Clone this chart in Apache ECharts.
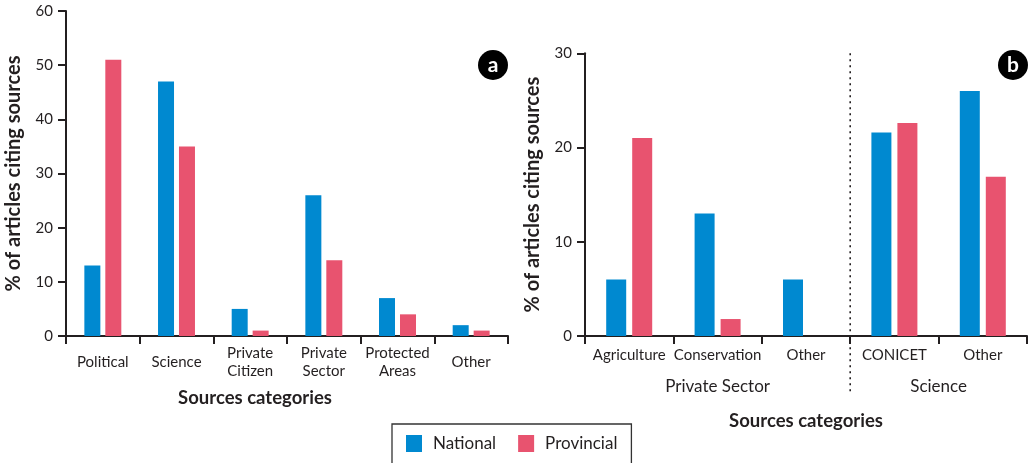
<!DOCTYPE html>
<html>
<head>
<meta charset="utf-8">
<script src="https://cdn.jsdelivr.net/npm/echarts@6/dist/echarts.min.js"></script>
<style>
  html, body { margin: 0; padding: 0; background: #fff; }
  #chart { width: 1031px; height: 463px; }
</style>
</head>
<body>
<div id="chart"></div>
<script>
// panel a
var categoriesA = ['Political', 'Science', 'Private\nCitizen', 'Private\nSector', 'Protected\nAreas', 'Other'];
var nationalA = [13, 47, 5, 26, 7, 2];
var provincialA = [51, 35, 1, 14, 4, 1];
var ticksA = [0, 10, 20, 30, 40, 50, 60];

// panel b
var categoriesB = ['Agriculture', 'Conservation', 'Other', 'CONICET', 'Other'];
var nationalB = [6, 13, 6, 21.6, 26];
var provincialB = [21, 1.8, 0, 22.6, 16.9];
var ticksB = [0, 10, 20, 30];
var groupsB = ['Private Sector', 'Science'];
var groupSizeB = [3, 2];

var font = 'Lato, "Noto Sans", sans-serif';
var ink = '#231f20';
var blue = '#0089d0';
var pink = '#e8536f';

var gridA = { left: 66, top: 11, width: 442, height: 325 };
var gridB = { left: 585, top: 53.3, width: 442, height: 282.7 };

function xAxis(idx, cats, name, nameGap, namePad, labelMargin) {
  return {
    type: 'category',
    gridIndex: idx,
    data: cats,
    name: name,
    nameLocation: 'middle',
    nameGap: nameGap,
    nameTextStyle: { fontFamily: font, fontWeight: 'bold', fontSize: 18.5, color: ink,
      verticalAlign: 'middle', padding: namePad },
    axisLine: { lineStyle: { color: ink, width: 2 } },
    axisTick: { show: true, length: 8, lineStyle: { color: ink, width: 2 } },
    axisLabel: { fontFamily: font, fontSize: 15, color: ink, interval: 0,
      margin: labelMargin, verticalAlign: 'middle', lineHeight: 18 },
    splitLine: { show: false }
  };
}

function yAxis(idx, ticks) {
  return {
    type: 'value',
    gridIndex: idx,
    min: ticks[0],
    max: ticks[ticks.length - 1],
    interval: ticks[1] - ticks[0],
    name: '% of articles citing sources',
    nameLocation: 'middle',
    nameGap: 42,
    nameTextStyle: { fontFamily: font, fontWeight: 'bold', fontSize: 20, color: ink },
    axisLine: { show: true, lineStyle: { color: ink, width: 2 } },
    axisTick: { show: true, length: 8, lineStyle: { color: ink, width: 2 } },
    axisLabel: { fontFamily: font, fontSize: 15, color: ink, margin: 13 },
    splitLine: { show: false }
  };
}

function bar(name, data, idx, color, width, gap) {
  return {
    name: name,
    type: 'bar',
    xAxisIndex: idx,
    yAxisIndex: idx,
    data: data,
    barWidth: width,
    barGap: gap,
    itemStyle: { color: color },
    silent: true
  };
}

function badge(cx, cy, letter) {
  return [
    { type: 'circle', shape: { cx: cx, cy: cy, r: 15 }, style: { fill: '#000' } },
    { type: 'text', x: cx, y: cy, style: { text: letter, fill: '#fff', font: 'bold 21px ' + font,
      textAlign: 'center', textVerticalAlign: 'middle' } }
  ];
}

// group labels and separator under panel b
var graphics = [];
var bandB = gridB.width / categoriesB.length;
var start = 0;
groupsB.forEach(function (g, i) {
  var cx = gridB.left + bandB * (start + groupSizeB[i] / 2);
  graphics.push({ type: 'text', x: cx, y: 387,
    style: { text: g, fill: ink, font: '17px ' + font, textAlign: 'center', textVerticalAlign: 'middle' } });
  start += groupSizeB[i];
});
var sepX = gridB.left + bandB * groupSizeB[0];
graphics.push({ type: 'line', shape: { x1: sepX, y1: gridB.top, x2: sepX, y2: 395 },
  style: { stroke: ink, lineWidth: 1.6, lineDash: [2, 4] } });
graphics = graphics.concat(badge(493, 65, 'a'), badge(1013, 65, 'b'));

var chart = echarts.init(document.getElementById('chart'));
chart.setOption({
  animation: false,
  backgroundColor: '#fff',
  grid: [gridA, gridB],
  xAxis: [
    xAxis(0, categoriesA, 'Sources categories', 62, [0, 64, 0, 0], 26),
    xAxis(1, categoriesB, 'Sources categories', 85, [0, 0, 0, 0], 19)
  ],
  yAxis: [yAxis(0, ticksA), yAxis(1, ticksB)],
  legend: {
    data: ['National', 'Provincial'],
    left: 392,
    top: 424,
    padding: [11, 14, 20, 14],
    itemWidth: 16,
    itemHeight: 17,
    itemGap: 22,
    icon: 'rect',
    borderColor: '#333',
    borderWidth: 1.3,
    selectedMode: false,
    textStyle: { fontFamily: font, fontSize: 17, color: ink, padding: [0, 0, 0, 6] }
  },
  series: [
    bar('National', nationalA, 0, blue, 16, '31%'),
    bar('Provincial', provincialA, 0, pink, 16, '31%'),
    bar('National', nationalB, 1, blue, 20, '30%'),
    bar('Provincial', provincialB, 1, pink, 20, '30%')
  ],
  graphic: graphics
});
</script>
</body>
</html>
